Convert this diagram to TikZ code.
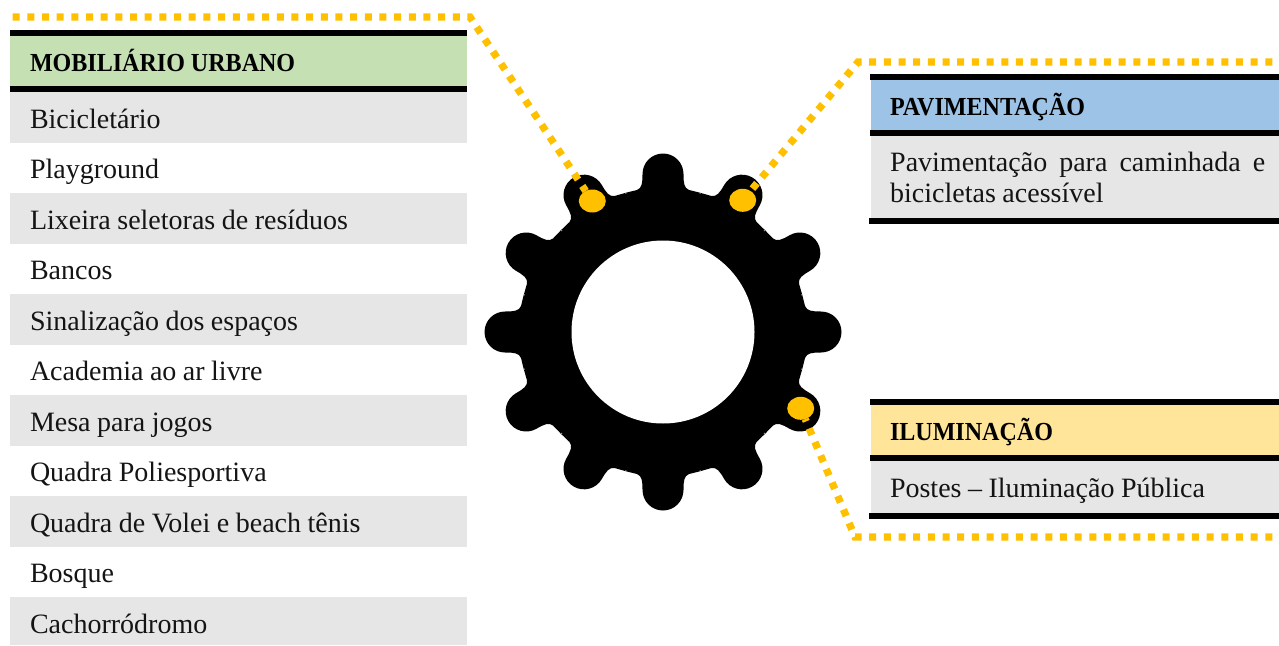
\documentclass[tikz,border=0pt]{standalone}
\usepackage{fontspec}
\setmainfont[BoldFeatures={FakeStretch=0.925}]{Liberation Serif}
\usetikzlibrary{shapes.geometric}
\definecolor{amber}{HTML}{FFC000}
\definecolor{rowgray}{HTML}{E6E6E6}
\definecolor{hgreen}{HTML}{C5E0B3}
\definecolor{hblue}{HTML}{9DC3E6}
\definecolor{hyellow}{HTML}{FFE599}
\newcommand{\bodyfont}{\fontsize{28}{31}\selectfont\spaceskip=6.5pt\relax}
\newcommand{\headfont}{\fontsize{26}{30}\selectfont\bfseries\spaceskip=6pt\relax}
\tikzset{
  x=1pt,y=-1pt,
  cell/.style={anchor=north west,inner ysep=0pt,outer sep=0pt,align=flush left,
     text height=24.5pt,text depth=3.5pt,font=\bodyfont,text=black!92},
  leftcell/.style={cell,inner xsep=20pt,text width=417pt,minimum height=#1},
  rightcell/.style={cell,inner xsep=19pt,text width=370pt,minimum height=#1},
  graybg/.style={fill=rowgray},
  head/.style={font=\headfont,text=black},
  rule/.style={fill=black},
  dots/.style={draw=amber,line width=7.3pt,dash pattern=on 7pt off 7.67pt},
  spot/.style={ellipse,fill=amber,minimum width=27pt,minimum height=23pt,inner sep=0pt,outer sep=0pt},
}
\begin{document}
\begin{tikzpicture}
\useasboundingbox (0,0) rectangle (1279,645);
% gear
\fill[black] (663,332) circle[radius=143];
\foreach \k in {0,30,...,330}{
  \fill[black,shift={(663,332)},rotate=\k]
    (-37.3,-139.2) -- (-26,-142) .. controls (-21,-144) and (-20.5,-149) .. (-20.5,-158)
    arc[start angle=180,end angle=0,radius=20.5,y radius=-20.5]
    .. controls (20.5,-149) and (21,-144) .. (26,-142) -- (37.3,-139.2) -- (0,-100) -- cycle;
}
\fill[white] (663,332) circle[radius=91.5];
\node[spot] (spotA) at (592.3,201) {};
\node[spot] (spotB) at (742.7,200.3) {};
\node[spot] (spotC) at (800.7,408.3) {};
\coordinate (startA) at (12.7,17);
\coordinate (kneeA) at (470,17);
\coordinate (endB) at (1272.3,62);
\coordinate (kneeB) at (858,62);
\coordinate (endC) at (1272.3,537);
\coordinate (kneeC) at (855,537);
\draw[dots] (startA) -- (kneeA) -- (spotA);
\draw[dots] (endB) -- (kneeB) -- (spotB);
\draw[dots] (endC) -- (kneeC) -- (spotC);
% left table
\fill[rule] (10,30) rectangle (467,36);
\node[leftcell=50pt,fill=hgreen,head] (hMob) at (10,36) {MOBILIÁRIO URBANO};
\fill[rule] (10,86) rectangle (467,92);
\node[leftcell=51pt,graybg] (r1) at (10,92) {Bicicletário};
\node[leftcell=50pt] (r2) at (10,143) {Playground};
\node[leftcell=51pt,graybg] (r3) at (10,193) {Lixeira seletoras de resíduos};
\node[leftcell=50pt] (r4) at (10,244) {Bancos};
\node[leftcell=51pt,graybg] (r5) at (10,294) {Sinalização dos espaços};
\node[leftcell=50pt] (r6) at (10,345) {Academia ao ar livre};
\node[leftcell=51pt,graybg] (r7) at (10,395) {Mesa para jogos};
\node[leftcell=50pt] (r8) at (10,446) {Quadra Poliesportiva};
\node[leftcell=51pt,graybg] (r9) at (10,496) {Quadra de Volei e beach tênis};
\node[leftcell=50pt] (r10) at (10,547) {Bosque};
\node[leftcell=48pt,graybg,text height=27pt,text depth=3pt] (r11) at (10,597) {Cachorródromo};
% pavimentacao
\fill[rule] (870,74) rectangle (1279,80);
\node[rightcell=50pt,fill=hblue,head] (hPav) at (871,80) {PAVIMENTAÇÃO};
\fill[rule] (870,130) rectangle (1279,136);
\fill[rowgray] (871,136) rectangle (1279,218);
\node[anchor=north west,inner sep=0pt,text width=375pt,align=flush left,font=\bodyfont,text=black!92] (pPav) at (890,151.5) {\hbox to 375pt{Pavimentação\hfill para\hfill caminhada\hfill e}\\bicicletas acessível};
\fill[rule] (869,218) rectangle (1279,224);
% iluminacao
\fill[rule] (870,399) rectangle (1279,405);
\node[rightcell=50pt,fill=hyellow,head] (hIlu) at (871,405) {ILUMINAÇÃO};
\fill[rule] (870,455) rectangle (1279,461);
\node[rightcell=52pt,graybg] (pIlu) at (871,461) {Postes – Iluminação Pública};
\fill[rule] (869,513) rectangle (1279,519);
\end{tikzpicture}
\end{document}
